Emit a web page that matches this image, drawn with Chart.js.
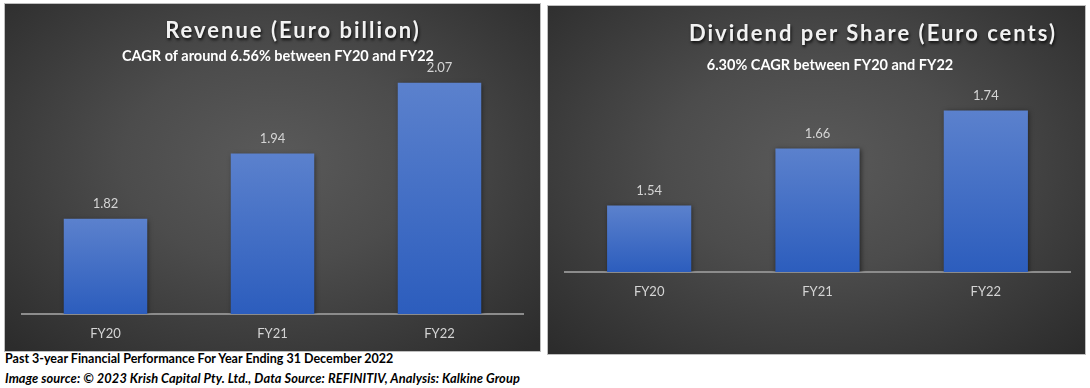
<!DOCTYPE html>
<html>
<head>
<meta charset="utf-8">
<script src="https://cdn.jsdelivr.net/npm/chart.js@4/dist/chart.umd.min.js"></script>
<style>
  html, body { margin:0; padding:0; background:#fff; width:1090px; height:388px; overflow:hidden; }
  .panel { position:absolute; border:1px solid #bfbfbf;
    background: radial-gradient(ellipse 70% 75% at 50% 45%, #5a5a5a 0%, #4c4c4c 40%, #2c2c2c 100%); }
  .panel canvas { position:absolute; left:0; top:0; }
  .t { position:absolute; transform:translate(-50%,-50%); white-space:nowrap; font-family:Lato, "Open Sans", sans-serif; }
  .title { color:#f2f2f2; font-weight:bold; font-size:22px; letter-spacing:2px; text-shadow: 1px 2px 3px rgba(0,0,0,0.8); }
  .sub { color:#ffffff; font-weight:bold; font-size:14.5px; }
  .cap { position:absolute; left:5px; white-space:nowrap; font-family:Lato, "Open Sans", sans-serif; font-weight:bold; font-size:12.5px; color:#000; }
</style>
</head>
<body>
<div class="panel" id="p1" style="left:4px; top:3px; width:535px; height:347px;">
  <canvas id="c1" width="535" height="347"></canvas>
</div>
<div class="panel" id="p2" style="left:547px; top:5px; width:537px; height:348px;">
  <canvas id="c2" width="537" height="348"></canvas>
</div>
<div class="t title" style="left:293px; top:29px;">Revenue (Euro billion)</div>
<div class="t sub" style="left:278px; top:55px;">CAGR of around 6.56% between FY20 and FY22</div>
<div class="t title" style="left:873px; top:32px;">Dividend per Share (Euro cents)</div>
<div class="t sub" style="left:830px; top:64px;">6.30% CAGR between FY20 and FY22</div>
<div class="cap" style="top:351px;">Past 3-year Financial Performance For Year Ending 31 December 2022</div>
<div class="cap" style="top:370px; font-style:italic; font-size:12.8px; letter-spacing:0.1px;">Image source: © 2023 Krish Capital Pty. Ltd., Data Source: REFINITIV, Analysis: Kalkine Group</div>
<script>
const categories = ['FY20', 'FY21', 'FY22'];
const revenue = [1.82, 1.94, 2.07];
const dividend = [1.54, 1.66, 1.74];
const revenueAxis = [1.645, 2.112];
const dividendAxis = [1.40, 1.846];

const barStyle = {
  id: 'barStyle',
  beforeDatasetsDraw(chart) {
    const ctx = chart.ctx;
    ctx.save();
    ctx.shadowColor = 'rgba(0,0,0,0.55)';
    ctx.shadowBlur = 5;
    ctx.shadowOffsetX = 1;
    ctx.shadowOffsetY = 1;
  },
  afterDatasetsDraw(chart) {
    const ctx = chart.ctx;
    ctx.restore();
    const meta = chart.getDatasetMeta(0);
    const data = chart.data.datasets[0].data;
    ctx.save();
    ctx.fillStyle = '#d4d4d4';
    ctx.font = '13px Lato, "Open Sans", sans-serif';
    ctx.textAlign = 'center';
    ctx.textBaseline = 'middle';
    meta.data.forEach((el, i) => {
      ctx.fillText(data[i].toFixed(2), el.x, el.y - 15);
    });
    ctx.restore();
  }
};

function makeChart(id, values, axis, pad, xh) {
  return new Chart(document.getElementById(id), {
    type: 'bar',
    data: {
      labels: categories,
      datasets: [{
        data: values,
        backgroundColor: (c) => {
          const chart = c.chart;
          const ys = chart.scales.y;
          if (!chart.chartArea || !ys || c.type !== 'data') return '#4472c4';
          const top = ys.getPixelForValue(c.raw);
          const bottom = ys.getPixelForValue(ys.min);
          const g = chart.ctx.createLinearGradient(0, top, 0, bottom);
          g.addColorStop(0, '#5b81cd');
          g.addColorStop(1, '#2c5dbd');
          return g;
        },
        borderWidth: 0,
        categoryPercentage: 1,
        barPercentage: 0.5
      }]
    },
    options: {
      responsive: false,
      animation: false,
      layout: { padding: pad },
      plugins: { legend: { display: false }, tooltip: { enabled: false }, title: { display: false } },
      scales: {
        x: {
          grid: { display: false, drawTicks: false },
          border: { display: true, color: '#8c8c8c', width: 2 },
          ticks: { color: '#d4d4d4', font: { family: 'Lato, "Open Sans", sans-serif', size: 13 }, padding: 12 },
          afterFit: (s) => { s.height = xh; }
        },
        y: {
          display: false,
          min: axis[0],
          max: axis[1]
        }
      }
    },
    plugins: [barStyle]
  });
}

makeChart('c1', revenue, revenueAxis, { left: 17, right: 17, top: 56, bottom: 0 }, 37);
makeChart('c2', dividend, dividendAxis, { left: 17, right: 15, top: 54, bottom: 0 }, 82);
</script>
</body>
</html>
